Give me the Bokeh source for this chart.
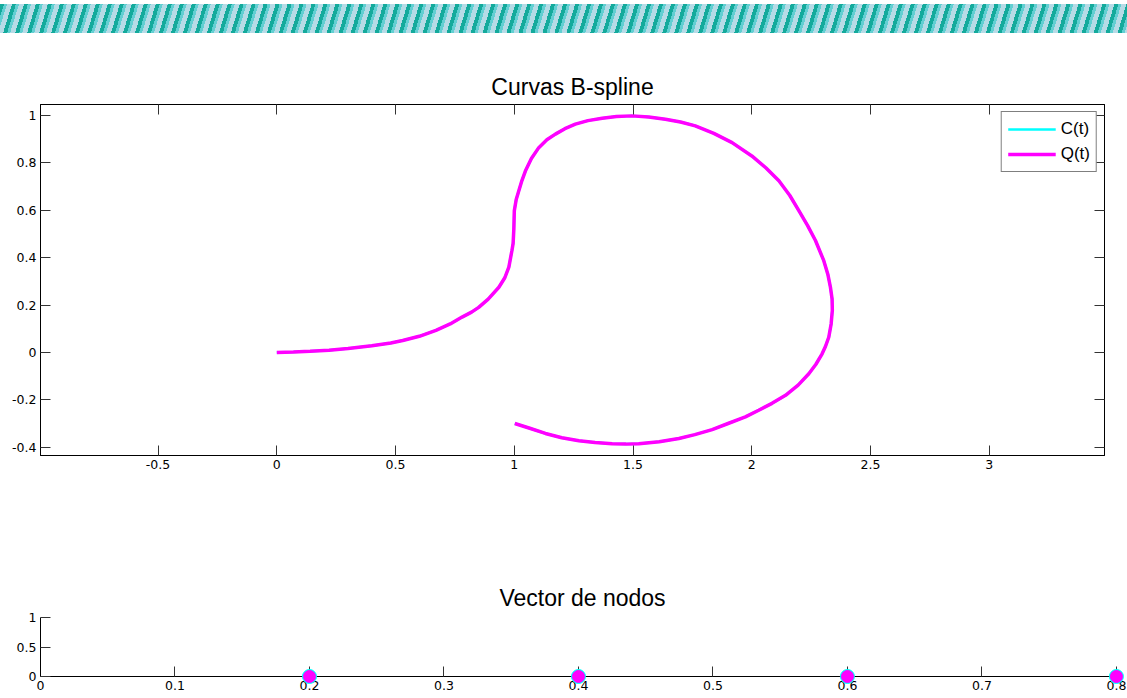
from bokeh.plotting import figure
from bokeh.layouts import column
from bokeh.models import Range1d, FixedTicker, LinearAxis, Div
from bokeh.embed import file_html
from bokeh.resources import INLINE

# Sampled points of the two B-spline curves
c_x = [0, 0.07, 0.14, 0.22, 0.30, 0.40, 0.48, 0.53, 0.60, 0.67, 0.73, 0.78, 0.82, 0.85,
       0.89, 0.935, 0.96, 0.977, 0.99, 0.995, 0.998, 1.0, 1.008, 1.019, 1.032, 1.047, 1.072,
       1.103, 1.137, 1.173, 1.213, 1.257, 1.31, 1.37, 1.43, 1.496, 1.566, 1.636, 1.70, 1.762,
       1.84, 1.917, 2.0, 2.06, 2.114, 2.16, 2.198, 2.235, 2.268, 2.303, 2.32, 2.331, 2.338,
       2.339, 2.334, 2.324, 2.31, 2.296, 2.27, 2.24, 2.195, 2.142, 2.085, 2.029, 1.973, 1.90,
       1.833, 1.76, 1.693, 1.61, 1.524, 1.47, 1.412, 1.34, 1.272, 1.20, 1.131, 1.065, 1.002]
c_y = [0, 0.002, 0.005, 0.009, 0.016, 0.028, 0.04, 0.05, 0.068, 0.093, 0.12, 0.149, 0.17, 0.19,
       0.225, 0.275, 0.315, 0.36, 0.43, 0.46, 0.52, 0.598, 0.645, 0.682, 0.725, 0.766, 0.818,
       0.864, 0.897, 0.921, 0.944, 0.963, 0.978, 0.988, 0.995, 0.998, 0.993, 0.984, 0.972, 0.956,
       0.924, 0.885, 0.829, 0.778, 0.724, 0.662, 0.598, 0.535, 0.472, 0.387, 0.33, 0.275, 0.225,
       0.177, 0.12, 0.064, 0.025, -0.006, -0.05, -0.09, -0.138, -0.181, -0.215, -0.244, -0.272, -0.30,
       -0.326, -0.347, -0.363, -0.377, -0.385, -0.387, -0.385, -0.38, -0.373, -0.36, -0.342, -0.32, -0.300]
q_x = [0, 0.07, 0.14, 0.22, 0.30, 0.40, 0.48, 0.53, 0.60, 0.67, 0.73, 0.78, 0.82, 0.85,
       0.89, 0.935, 0.96, 0.977, 0.99, 0.995, 0.998, 1.0, 1.008, 1.019, 1.032, 1.047, 1.072,
       1.103, 1.137, 1.173, 1.213, 1.257, 1.31, 1.37, 1.43, 1.496, 1.566, 1.636, 1.70, 1.762,
       1.84, 1.917, 2.0, 2.06, 2.114, 2.16, 2.198, 2.235, 2.268, 2.303, 2.32, 2.331, 2.338,
       2.339, 2.334, 2.324, 2.31, 2.296, 2.27, 2.24, 2.195, 2.142, 2.085, 2.029, 1.973, 1.90,
       1.833, 1.76, 1.693, 1.61, 1.524, 1.47, 1.412, 1.34, 1.272, 1.20, 1.131, 1.065, 1.002]
q_y = [0, 0.002, 0.005, 0.009, 0.016, 0.028, 0.04, 0.05, 0.068, 0.093, 0.12, 0.149, 0.17, 0.19,
       0.225, 0.275, 0.315, 0.36, 0.43, 0.46, 0.52, 0.598, 0.645, 0.682, 0.725, 0.766, 0.818,
       0.864, 0.897, 0.921, 0.944, 0.963, 0.978, 0.988, 0.995, 0.998, 0.993, 0.984, 0.972, 0.956,
       0.924, 0.885, 0.829, 0.778, 0.724, 0.662, 0.598, 0.535, 0.472, 0.387, 0.33, 0.275, 0.225,
       0.177, 0.12, 0.064, 0.025, -0.006, -0.05, -0.09, -0.138, -0.181, -0.215, -0.244, -0.272, -0.30,
       -0.326, -0.347, -0.363, -0.377, -0.385, -0.387, -0.385, -0.38, -0.373, -0.36, -0.342, -0.32, -0.300]

# Knot vector
knots_c = [0.2, 0.4, 0.6, 0.8]
knots_q = [0.2, 0.4, 0.6, 0.8]
knot_level = [0, 0, 0, 0]

curve_xticks = [-0.5, 0, 0.5, 1, 1.5, 2, 2.5, 3]
curve_xtick_labels = ["-0.5", "0", "0.5", "1", "1.5", "2", "2.5", "3"]
curve_yticks = [-0.4, -0.2, 0, 0.2, 0.4, 0.6, 0.8, 1]
curve_ytick_labels = ["-0.4", "-0.2", "0", "0.2", "0.4", "0.6", "0.8", "1"]
knot_xticks = [0, 0.1, 0.2, 0.3, 0.4, 0.5, 0.6, 0.7, 0.8]
knot_xtick_labels = ["0", "0.1", "0.2", "0.3", "0.4", "0.5", "0.6", "0.7", "0.8"]
knot_yticks = [0, 0.5, 1]
knot_ytick_labels = ["0", "0.5", "1"]

CYAN = "#00ffff"
MAGENTA = "#ff00ff"
TICK_FONT = "DejaVu Sans"
TITLE_FONT = "Liberation Sans"


def style_axis(ax, ticks, labels=None):
    ax.ticker = FixedTicker(ticks=ticks)
    ax.major_tick_in = 10
    ax.major_tick_out = 0
    ax.minor_tick_line_color = None
    ax.axis_line_color = "black"
    ax.axis_line_width = 1
    ax.major_tick_line_color = "#333333"
    ax.major_label_text_font = TICK_FONT
    if labels is not None:
        ax.major_label_overrides = {t: s for t, s in zip(ticks, labels)}
        ax.major_label_text_color = "black"
        ax.major_label_text_font_size = "12.5px"
        ax.major_label_standoff = 4
    else:
        # tick marks only (box sides)
        ax.major_label_text_color = None
        ax.major_label_text_font_size = "1px"
        ax.major_label_standoff = 0


def style_title(p):
    p.title.text_font = TITLE_FONT
    p.title.text_font_size = "23px"
    p.title.text_font_style = "normal"
    p.title.text_color = "black"
    p.title.align = "center"


# --- striped banner across the top of the page ----------------------------
stripes = ("repeating-linear-gradient(107deg, #14aa9c 0px, #14aa9c 3.8px, "
           "#62cfd2 3.8px, #62cfd2 6.7px, #b6dbe6 6.7px, #b6dbe6 11.46px)")
banner = Div(text=f'<div style="margin-top:4px;height:29px;width:1127px;background:{stripes};"></div>',
             width=1127, height=40, margin=(0, 0, 0, 0))

# --- B-spline curves ------------------------------------------------------
p1 = figure(x_range=Range1d(-0.995, 3.485), y_range=Range1d(-0.435, 1.046),
            frame_width=1064, frame_height=351,
            min_border_left=40, min_border_right=23, min_border_top=64, min_border_bottom=105,
            output_backend="svg", toolbar_location=None, title="Curvas B-spline")
style_title(p1)
p1.grid.visible = False
p1.outline_line_color = "black"
p1.background_fill_color = "white"
p1.border_fill_color = "white"
style_axis(p1.xaxis[0], curve_xticks, curve_xtick_labels)
style_axis(p1.yaxis[0], curve_yticks, curve_ytick_labels)
top_axis = LinearAxis()
style_axis(top_axis, curve_xticks)
p1.add_layout(top_axis, "above")
right_axis = LinearAxis()
style_axis(right_axis, curve_yticks)
p1.add_layout(right_axis, "right")

p1.line(c_x, c_y, color=CYAN, line_width=2.5, legend_label="C(t)")
p1.line(q_x, q_y, color=MAGENTA, line_width=3.5, legend_label="Q(t)")
lg = p1.legend[0]
lg.location = "top_right"
lg.margin = 7
lg.padding = 6
lg.spacing = 3
lg.glyph_width = 48
lg.glyph_height = 22
lg.label_height = 22
lg.label_standoff = 5
lg.label_text_font = TITLE_FONT
lg.label_text_font_size = "17px"
lg.label_text_color = "black"
lg.border_line_color = "black"
lg.border_line_width = 1
lg.background_fill_color = "white"
lg.background_fill_alpha = 1

# --- knot vector ----------------------------------------------------------
p2 = figure(x_range=Range1d(0, 0.806), y_range=Range1d(0, 1),
            frame_width=1084, frame_height=59,
            min_border_left=40, min_border_right=3, min_border_top=57, min_border_bottom=22,
            output_backend="svg", toolbar_location=None, title="Vector de nodos")
style_title(p2)
p2.title.offset = -6
p2.title.standoff = 13
p2.grid.visible = False
p2.outline_line_color = None
style_axis(p2.xaxis[0], knot_xticks, knot_xtick_labels)
style_axis(p2.yaxis[0], knot_yticks, knot_ytick_labels)
p2.xaxis[0].bounds = (0, 0.8)

# knots drawn above the axes so the markers on y = 0 are shown whole
p2.scatter(knots_c, knot_level, size=14, color=CYAN, level="overlay")
p2.scatter(knots_q, knot_level, size=12, color=MAGENTA, level="overlay")

layout = column(banner, p1, p2, spacing=0)

with open("out.html", "w") as f:
    f.write(file_html(layout, INLINE))
